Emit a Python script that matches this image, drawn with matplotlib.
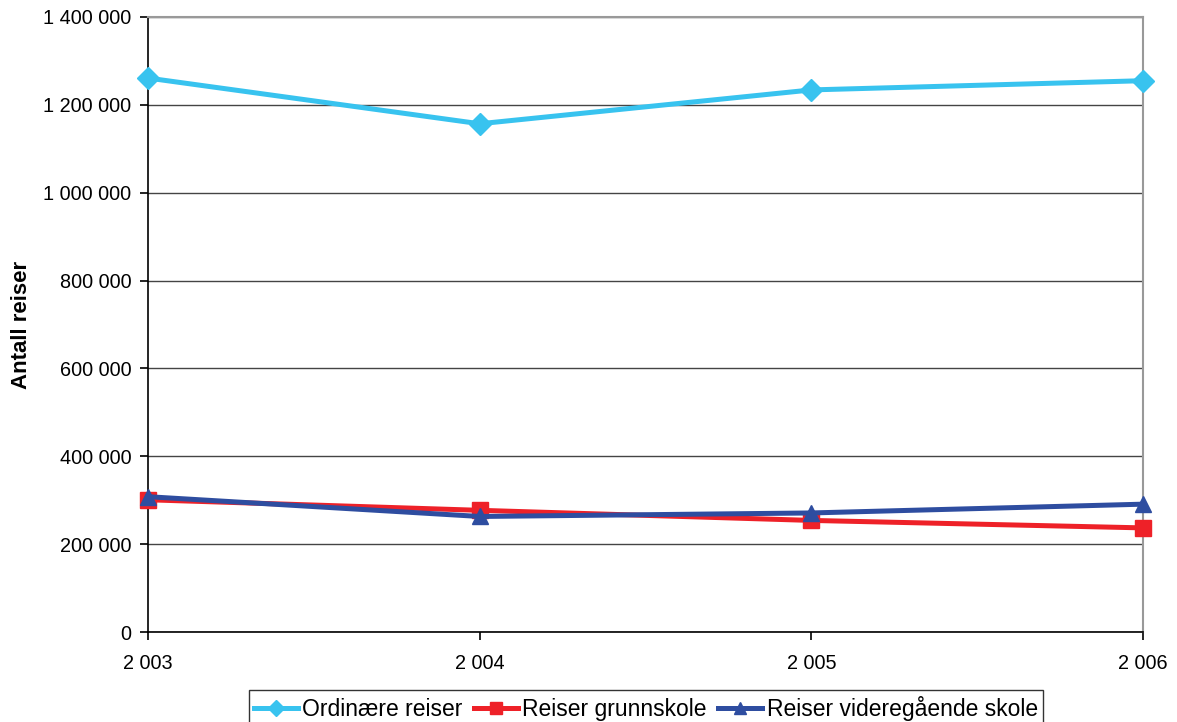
import matplotlib
matplotlib.use("Agg")
import matplotlib.pyplot as plt
from matplotlib.ticker import FuncFormatter, FixedLocator

plt.rcParams['font.family'] = ['Liberation Sans', 'DejaVu Sans']

years = [2003, 2004, 2005, 2006]
ordinaere = [1261000, 1157000, 1234000, 1255000]
grunnskole = [301000, 277000, 254000, 237000]
videregaende = [308000, 263000, 271000, 291000]

series_labels = ["Ordinære reiser", "Reiser grunnskole", "Reiser videregående skole"]
y_label = "Antall reiser"


def spaced(v, pos=None):
    return f"{int(round(v)):,}".replace(",", " ")


fig = plt.figure(figsize=(11.77, 7.22), dpi=100)
ax = fig.add_axes([148 / 1177, 90 / 722, 995 / 1177, 615 / 722])

lw = 3.6
ax.plot(years, ordinaere, color="#38C3EF", lw=lw, marker="D", ms=11,
        label=series_labels[0], zorder=3, clip_on=False)
ax.plot(years, grunnskole, color="#EE2128", lw=lw, marker="s", ms=11,
        label=series_labels[1], zorder=3, clip_on=False)
ax.plot(years, videregaende, color="#2E4DA0", lw=lw, marker="^", ms=12,
        label=series_labels[2], zorder=4, clip_on=False)

ax.set_xlim(2003, 2006)
ax.set_ylim(0, 1400000)
ax.yaxis.set_major_locator(FixedLocator(range(0, 1400001, 200000)))
ax.xaxis.set_major_locator(FixedLocator(years))
ax.yaxis.set_major_formatter(FuncFormatter(spaced))
ax.xaxis.set_major_formatter(FuncFormatter(spaced))

ax.grid(axis="y", color="#444444", lw=1.0)
ax.set_axisbelow(True)
for side in ("top", "right"):
    ax.spines[side].set_color("#999999")
    ax.spines[side].set_linewidth(1.5)
for side in ("left", "bottom"):
    ax.spines[side].set_color("black")
    ax.spines[side].set_linewidth(1.2)

ax.tick_params(axis="both", direction="out", length=6, width=1.2,
               labelsize=14.3, colors="black")
ax.tick_params(axis="y", pad=6)
ax.tick_params(axis="x", pad=10)

ax.set_ylabel(y_label, fontsize=16, fontweight="bold", labelpad=8)

leg = fig.legend(loc="upper center", bbox_to_anchor=(646 / 1177, 32 / 722),
                 ncol=3, fontsize=16.5, frameon=True, fancybox=False,
                 edgecolor="black", handlelength=1.9, handletextpad=0.2,
                 columnspacing=0.5, borderpad=0.25, borderaxespad=0,
                 markerscale=0.75)
leg.get_frame().set_linewidth(1.0)

fig.savefig("out.png", dpi=100)
